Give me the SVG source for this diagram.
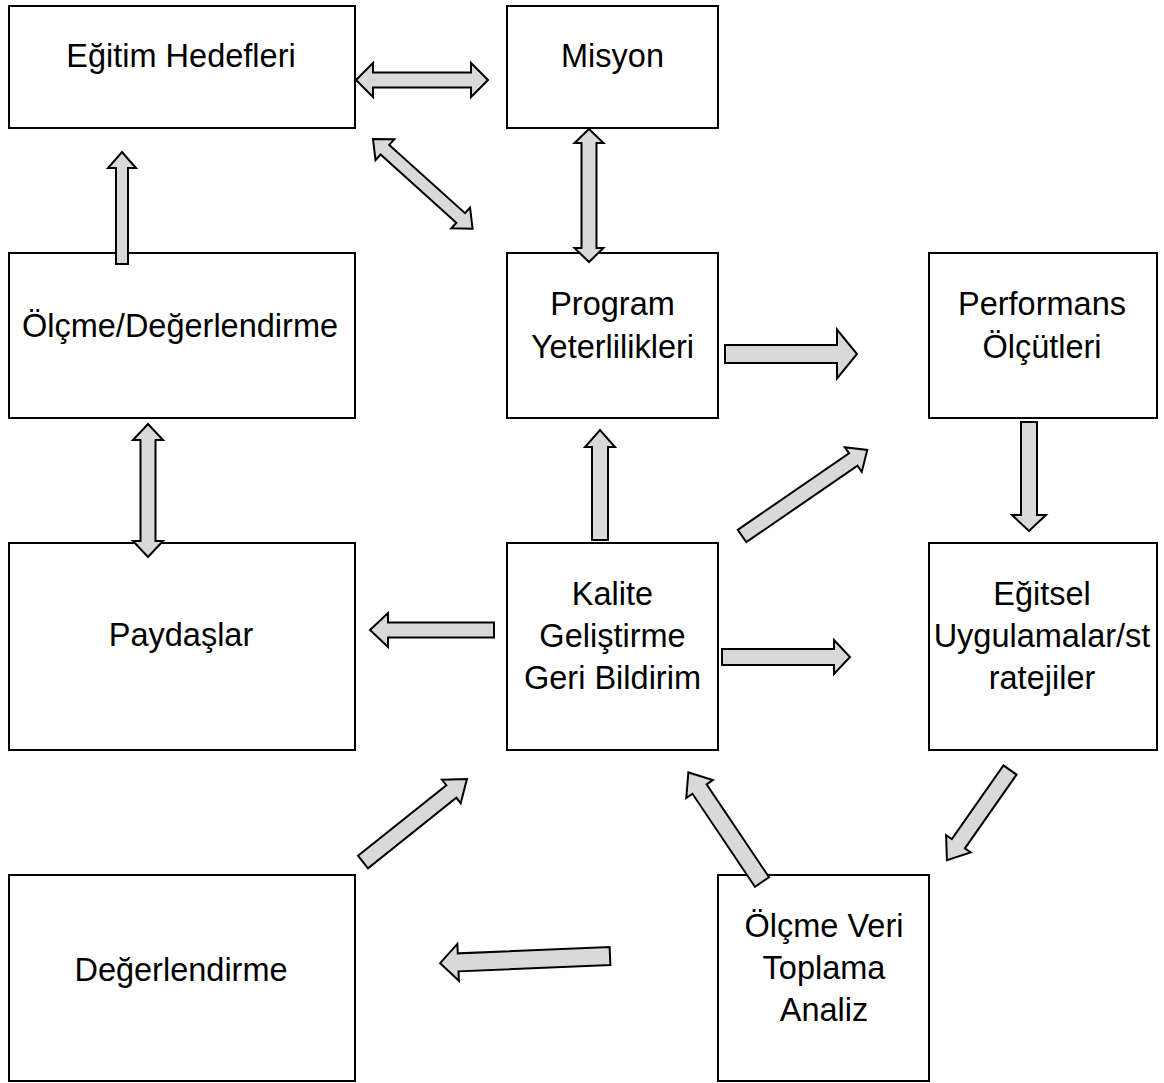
<svg xmlns="http://www.w3.org/2000/svg" width="1164" height="1083" viewBox="0 0 1164 1083">
<style>
.box{fill:#fff;stroke:#000;stroke-width:2}
.lbl{font-family:"Liberation Sans",Arial,sans-serif;font-size:32.5px;fill:#000;text-anchor:middle}
.arr{fill:#d9d9d9;stroke:#000;stroke-width:2;stroke-linejoin:miter}
</style>
<rect width="1164" height="1083" fill="#fff"/>
<g id="n-egitim-hedefleri"><rect class="box" x="9" y="6" width="346" height="122"/><text class="lbl" x="181" y="67">Eğitim Hedefleri</text></g>
<g id="n-misyon"><rect class="box" x="507" y="6" width="211" height="122"/><text class="lbl" x="612.5" y="67">Misyon</text></g>
<g id="n-olcme-degerlendirme"><rect class="box" x="9" y="253" width="346" height="165"/><text class="lbl" x="180" y="337">Ölçme/Değerlendirme</text></g>
<g id="n-program"><rect class="box" x="507" y="253" width="211" height="165"/><text class="lbl" x="612.5" y="315">Program</text><text class="lbl" x="612.5" y="358">Yeterlilikleri</text></g>
<g id="n-performans"><rect class="box" x="929" y="253" width="228" height="165"/><text class="lbl" x="1042" y="315">Performans</text><text class="lbl" x="1042" y="358">Ölçütleri</text></g>
<g id="n-paydaslar"><rect class="box" x="9" y="543" width="346" height="207"/><text class="lbl" x="181" y="646">Paydaşlar</text></g>
<g id="n-kalite"><rect class="box" x="507" y="543" width="211" height="207"/><text class="lbl" x="612.5" y="605">Kalite</text><text class="lbl" x="612.5" y="647">Geliştirme</text><text class="lbl" x="612.5" y="689">Geri Bildirim</text></g>
<g id="n-egitsel"><rect class="box" x="929" y="543" width="228" height="207"/><text class="lbl" x="1042" y="605">Eğitsel</text><text class="lbl" x="1042" y="647">Uygulamalar/st</text><text class="lbl" x="1042" y="689">ratejiler</text></g>
<g id="n-degerlendirme"><rect class="box" x="9" y="875" width="346" height="206"/><text class="lbl" x="181" y="981">Değerlendirme</text></g>
<g id="n-olcme-veri"><rect class="box" x="718" y="875" width="211" height="206"/><text class="lbl" x="824" y="937">Ölçme Veri</text><text class="lbl" x="824" y="979">Toplama</text><text class="lbl" x="824" y="1021">Analiz</text></g>
<g id="connectors">
<polygon class="arr" transform="translate(356,80)" points="0,0 17,-17 17,-7.5 115,-7.5 115,-17 132,0 115,17 115,7.5 17,7.5 17,17"/>
<polygon class="arr" transform="translate(373,139) rotate(42)" points="0,0 16,-14 16,-6.5 118,-6.5 118,-14 134,0 118,14 118,6.5 16,6.5 16,14"/>
<polygon class="arr" transform="translate(589,129) rotate(90)" points="0,0 14,-14.5 14,-7.5 119,-7.5 119,-14.5 133,0 119,14.5 119,7.5 14,7.5 14,14.5"/>
<polygon class="arr" transform="translate(725,354)" points="0,-9 112,-9 112,-24.5 132,0 112,24.5 112,9 0,9"/>
<polygon class="arr" transform="translate(742,536) rotate(-34.5)" points="0,-7.5 135,-7.5 135,-15 152,0 135,15 135,7.5 0,7.5"/>
<polygon class="arr" transform="translate(1029,422) rotate(90)" points="0,-8 93,-8 93,-17 109,0 93,17 93,8 0,8"/>
<polygon class="arr" transform="translate(122,264) rotate(-90)" points="0,-6 96,-6 96,-14 112,0 96,14 96,6 0,6"/>
<polygon class="arr" transform="translate(148,424) rotate(90)" points="0,0 16,-15 16,-7.5 117,-7.5 117,-15 133,0 117,15 117,7.5 16,7.5 16,15"/>
<polygon class="arr" transform="translate(600,540) rotate(-90)" points="0,-8 93,-8 93,-15 110,0 93,15 93,8 0,8"/>
<polygon class="arr" transform="translate(494,630) rotate(180)" points="0,-7.5 106,-7.5 106,-17 124,0 106,17 106,7.5 0,7.5"/>
<polygon class="arr" transform="translate(722,657)" points="0,-8 112,-8 112,-17 128,0 112,17 112,8 0,8"/>
<polygon class="arr" transform="translate(1010,770) rotate(125)" points="0,-8 90,-8 90,-15 110,0 90,15 90,8 0,8"/>
<polygon class="arr" transform="translate(363,862) rotate(-38.6)" points="0,-8 113,-8 113,-15 133,0 113,15 113,8 0,8"/>
<polygon class="arr" transform="translate(762,882) rotate(-123.9)" points="0,-8.5 112,-8.5 112,-16 132,0 112,16 112,8.5 0,8.5"/>
<polygon class="arr" transform="translate(610,956) rotate(177.6)" points="0,-9 152,-9 152,-18.5 170,0 152,18.5 152,9 0,9"/>
</g>
</svg>
